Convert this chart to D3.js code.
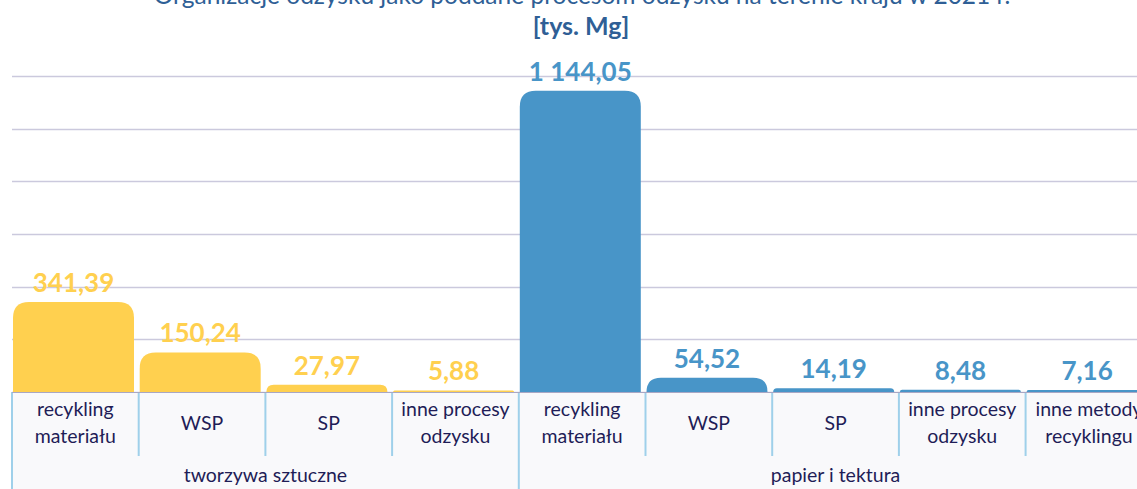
<!DOCTYPE html>
<html>
<head>
<meta charset="utf-8">
<script src="https://cdn.jsdelivr.net/npm/d3@7"></script>
<style>
  body { margin: 0; background: #fff; }
  svg { display: block; font-family: Lato, "Noto Sans", sans-serif; }
</style>
</head>
<body>
<div id="chart"></div>
<script>
// values (tys. Mg)
const groups = ["tworzywa sztuczne", "papier i tektura"];
const categories = [
  ["recykling", "materiału"], ["WSP"], ["SP"], ["inne procesy", "odzysku"],
  ["recykling", "materiału"], ["WSP"], ["SP"], ["inne procesy", "odzysku"], ["inne metody", "recyklingu"],
  ["x"]
];
const groupOf = [0, 0, 0, 0, 1, 1, 1, 1, 1, 1];
const values = [341.39, 150.24, 27.97, 5.88, 1144.05, 54.52, 14.19, 8.48, 7.16, null];
const yTicks = [0, 200, 400, 600, 800, 1000, 1200];
const colors = ["#ffd04f", "#4895c8"];

const W = 1137, H = 489;
const base = 392, left = 12, step = 126.7;

const svg = d3.select("#chart").append("svg")
  .attr("width", W).attr("height", H);

const x = d3.scaleBand()
  .domain(d3.range(categories.length))
  .range([left, left + step * categories.length])
  .padding(0);

const y = d3.scaleLinear().domain([0, 1200]).range([base, 76]);

// title (top line cut off like in the reference)
svg.append("text")
  .attr("x", 582).attr("y", 4)
  .attr("text-anchor", "middle")
  .attr("fill", "#2f5f96")
  .attr("font-size", 24.5)
  .text("Organizacje odzysku jako poddane procesom odzysku na terenie kraju w 2021 r.");
svg.append("text")
  .attr("x", 581).attr("y", 35)
  .attr("text-anchor", "middle")
  .attr("fill", "#2f5f96")
  .attr("font-size", 25).attr("font-weight", "bold")
  .text("[tys. Mg]");

// gridlines
svg.append("g").selectAll("line")
  .data(yTicks)
  .join("line")
  .attr("x1", left).attr("x2", W)
  .attr("y1", d => Math.round(y(d)) + 0.5).attr("y2", d => Math.round(y(d)) + 0.5)
  .attr("stroke", "#cbc9dd").attr("stroke-width", 1.5);

// category area background
svg.append("rect")
  .attr("x", left).attr("y", base + 1)
  .attr("width", W - left).attr("height", H - base)
  .attr("fill", "#f9f9fb");

// bars with rounded top corners
function barPath(x0, w, top, bottom, r) {
  r = Math.min(r, bottom - top, w / 2);
  return `M${x0},${bottom}V${top + r}Q${x0},${top} ${x0 + r},${top}` +
    `H${x0 + w - r}Q${x0 + w},${top} ${x0 + w},${top + r}V${bottom}Z`;
}

const barW = step * 0.955;
const data = values.map((v, i) => ({ i, v })).filter(d => d.v != null);

svg.append("g").selectAll("path")
  .data(data)
  .join("path")
  .attr("d", d => barPath(x(d.i) + 1, barW, y(d.v), base, 16))
  .attr("fill", d => colors[groupOf[d.i]]);

// value labels
const fmt = v => {
  const [a, b] = v.toFixed(2).split(".");
  return a.replace(/\B(?=(\d{3})+(?!\d))/g, " ") + "," + b;
};
svg.append("g").selectAll("text")
  .data(data)
  .join("text")
  .attr("x", d => x(d.i) + 1 + barW / 2)
  .attr("y", d => y(d.v) - 10)
  .attr("text-anchor", "middle")
  .attr("fill", d => colors[groupOf[d.i]])
  .attr("font-size", 26).attr("font-weight", "bold")
  .text(d => fmt(d.v));

// category labels
const cat = svg.append("g").selectAll("text")
  .data(categories.slice(0, 9).map((c, i) => ({ c, i })))
  .join("text")
  .attr("text-anchor", "middle")
  .attr("fill", "#1f1d57")
  .attr("font-size", 19.5);
cat.each(function(d) {
  const t = d3.select(this);
  const cx = x(d.i) + step / 2;
  if (d.c.length === 1) {
    t.append("tspan").attr("x", cx).attr("y", 430).text(d.c[0]);
  } else {
    t.append("tspan").attr("x", cx).attr("y", 416).text(d.c[0]);
    t.append("tspan").attr("x", cx).attr("y", 443).text(d.c[1]);
  }
});

// separators
const sep = svg.append("g");
d3.range(categories.length + 1).forEach(i => {
  const sx = left + i * step;
  const isGroup = i === 0 || i === 4 || i === 9;
  sep.append("line")
    .attr("x1", sx).attr("x2", sx)
    .attr("y1", base).attr("y2", isGroup ? H : 456)
    .attr("stroke", "#9fd0ea").attr("stroke-width", 2);
});

// baseline
svg.append("line")
  .attr("x1", left).attr("x2", W)
  .attr("y1", base + 0.5).attr("y2", base + 0.5)
  .attr("stroke", "#a9a7c4").attr("stroke-width", 1);

// group labels
const groupSpan = [[0, 4], [4, 9]];
svg.append("g").selectAll("text")
  .data(groups)
  .join("text")
  .attr("x", (d, i) => left + (groupSpan[i][0] + groupSpan[i][1]) / 2 * step)
  .attr("y", 482)
  .attr("text-anchor", "middle")
  .attr("fill", "#1f1d57")
  .attr("font-size", 19.5)
  .text(d => d);
</script>
</body>
</html>
